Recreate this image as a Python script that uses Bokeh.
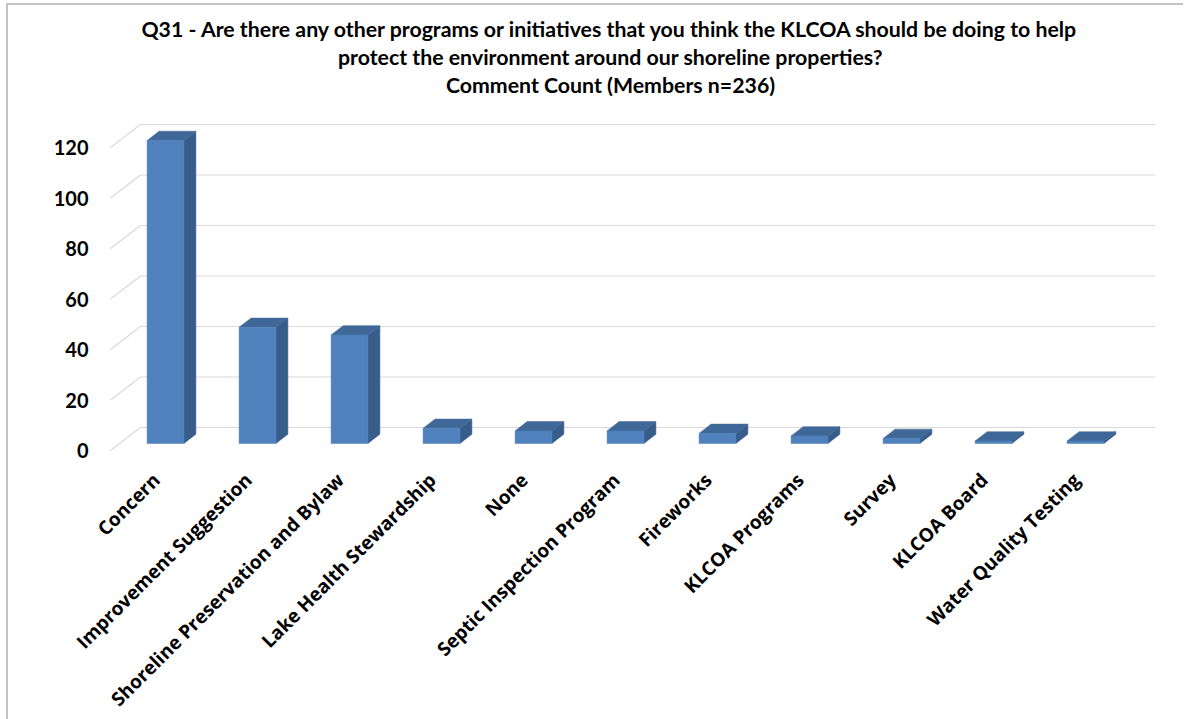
from math import pi
from bokeh.plotting import figure
from bokeh.models import Range1d, LinearAxis, FixedTicker, Label
from bokeh.embed import file_html
from bokeh.resources import INLINE

# ---------------- data ----------------
categories = [
    "Concern",
    "Improvement Suggestion",
    "Shoreline Preservation and Bylaw",
    "Lake Health Stewardship",
    "None",
    "Septic Inspection Program",
    "Fireworks",
    "KLCOA Programs",
    "Survey",
    "KLCOA Board",
    "Water Quality Testing",
]
counts = [120, 46, 43, 6, 5, 5, 4, 3, 2, 1, 1]
y_ticks = [0, 20, 40, 60, 80, 100, 120]
title_lines = [
    "Q31 - Are there any other programs or initiatives that you think the KLCOA should be doing to help",
    "protect the environment around our shoreline properties?",
    "Comment Count (Members n=236)",
]

# ---------------- geometry / style ----------------
OX, OY = 8, 5                          # element offset on the page (border strip)
L, R, T, B = 100 - OX, 1170 - OX, 4, 458 - OY   # frame edges in canvas px
PX_X = 92.0                            # px per category
PX_Y = 2.525                           # px per count unit
x_start = -(165 - OX - L) / PX_X
x_end = x_start + (R - L) / PX_X
y_start = -(B - (443 - OY)) / PX_Y
y_end = y_start + (B - T) / PX_Y

HALF = 0.2                 # half bar width (categories)
DDX = 12 / PX_X            # bar depth offset x
DDY = 9.3 / PX_Y           # bar depth offset y
WALL_DX = 21 / PX_X        # back wall offset from bar front plane
WALL_DY = 16 / PX_Y
FRONT_DX = -9 / PX_X       # front edge of the side wall
FRONT_DY = -7 / PX_Y
WALL_LEFT = -0.272
WALL_RIGHT = 10.76
LABEL_SHIFT = -0.1         # category labels sit slightly left of bar centres

FRONT = "#4F81BD"
SIDE = "#385D8A"
TOP = "#3F6899"
GRID = "#d9d9d9"
FONT = "Lato"
XFONT = "Open Sans"

p = figure(
    frame_width=R - L, frame_height=B - T,
    x_range=Range1d(x_start, x_end),
    y_range=Range1d(y_start, y_end),
    output_backend="svg", toolbar_location=None,
    min_border_left=L, min_border_right=15,
    min_border_top=T, min_border_bottom=10,
    y_axis_location=None,
)
p.styles = {"margin-left": f"{OX}px", "margin-top": f"{OY}px",
            "box-shadow": "-2px -2px 0 0 #c4c4c4"}
p.outline_line_color = None
p.grid.visible = False
p.background_fill_color = "white"
p.border_fill_color = "white"

# back wall gridlines + left side wall diagonals
gx, gy = [], []
for v in y_ticks:
    gx.append([WALL_LEFT, WALL_RIGHT])
    gy.append([v + WALL_DY, v + WALL_DY])
    gx.append([WALL_LEFT - (WALL_DX - FRONT_DX), WALL_LEFT])
    gy.append([v + FRONT_DY, v + WALL_DY])
p.multi_line(gx, gy, line_color=GRID, line_width=1.2)

# 3D bars
side_xs, side_ys, top_xs, top_ys = [], [], [], []
for i, v in enumerate(counts):
    xr, xl = i + HALF, i - HALF
    side_xs.append([xr, xr + DDX, xr + DDX, xr])
    side_ys.append([0, DDY, v + DDY, v])
    top_xs.append([xl, xl + DDX, xr + DDX, xr])
    top_ys.append([v, v + DDY, v + DDY, v])
p.patches(side_xs, side_ys, fill_color=SIDE, line_color=SIDE, line_width=0.5)
p.patches(top_xs, top_ys, fill_color=TOP, line_color=TOP, line_width=0.5)
p.quad(left=[i - HALF for i in range(len(counts))],
       right=[i + HALF for i in range(len(counts))],
       bottom=[0] * len(counts), top=counts,
       fill_color=FRONT, line_color=FRONT, line_width=0.5)

# y axis drawn against the front edge of the chart
p.extra_y_ranges = {"front": Range1d(y_start - FRONT_DY, y_end - FRONT_DY)}
yax = LinearAxis(y_range_name="front", ticker=FixedTicker(ticks=y_ticks))
yax.axis_line_color = None
yax.major_tick_line_color = None
yax.minor_tick_line_color = None
yax.major_label_standoff = 6
yax.major_label_text_font = FONT
yax.major_label_text_font_style = "bold"
yax.major_label_text_font_size = "20px"
yax.major_label_text_color = "#000000"
p.add_layout(yax, "left")

# category axis
label_pos = [i + LABEL_SHIFT for i in range(len(categories))]
xax = p.xaxis[0]
xax.ticker = FixedTicker(ticks=label_pos)
xax.major_label_overrides = {pos: c for pos, c in zip(label_pos, categories)}
xax.major_label_orientation = pi / 4
xax.axis_line_color = None
xax.major_tick_line_color = None
xax.minor_tick_line_color = None
xax.major_label_standoff = 12
xax.major_label_text_font = XFONT
xax.major_label_text_font_style = "bold"
xax.major_label_text_font_size = "19px"
xax.major_label_text_color = "#000000"

# title (three centred lines); screen units are relative to the frame's bottom-left
p.add_layout(Label(
    x=610 - OX - L, y=B - (15 - OY), x_units="screen", y_units="screen",
    text="\n".join(title_lines), text_align="center", text_baseline="top",
    text_font=FONT, text_font_style="bold", text_font_size="21.3px",
    text_line_height=1.09, text_color="#000000",
))

open("out.html", "w").write(file_html(p, INLINE))
